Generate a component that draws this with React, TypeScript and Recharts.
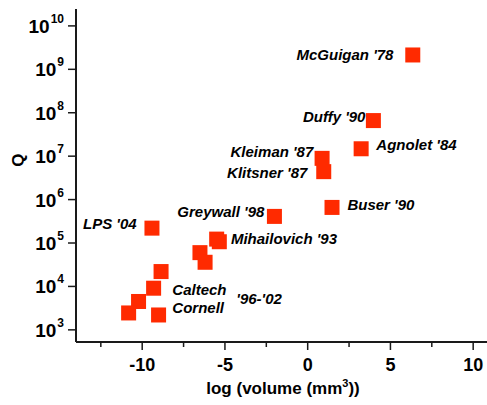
import { Scatter, ScatterChart, XAxis, YAxis } from "recharts";

// device points: log10 volume (mm^3) vs quality factor Q
const logVolume = [6.35, 3.97, 3.23, 0.87, 0.97, 1.47, -2.01, -9.41, -5.5, -5.34, -6.51, -6.2, -8.86, -9.31, -10.22, -10.82, -9.01];
const qFactor = [2.14e9, 6.6e7, 1.48e7, 8.9e6, 4.4e6, 6.6e5, 4.1e5, 2.2e5, 1.23e5, 1.07e5, 6.0e4, 3.6e4, 2.2e4, 9.1e3, 4.5e3, 2.45e3, 2.2e3];

// annotations, placed in data coordinates
const labelText = ["McGuigan '78", "Duffy '90", "Agnolet '84", "Kleiman '87", "Klitsner '87", "Buser '90", "Greywall '98", "LPS '04", "Mihailovich '93", "Caltech", "Cornell", "'96-'02"];
const labelX = [5.18, 3.49, 4.15, 0.34, -0.02, 2.4, -2.62, -10.34, -4.64, -8.18, -8.18, -4.31];
const labelQ = [2.14e9, 7.9e7, 1.8e7, 1.26e7, 4.2e6, 7.6e5, 5.1e5, 2.8e5, 1.23e5, 8.3e3, 3.2e3, 5.1e3];
const labelAlign = ["end", "end", "start", "end", "end", "start", "end", "end", "start", "start", "start", "start"];

const xTicks = [-12.5, -10, -7.5, -5, -2.5, 0, 2.5, 5, 7.5, 10];
const yTicks = [1e3, 1e4, 1e5, 1e6, 1e7, 1e8, 1e9, 1e10];

const FONT = '"Liberation Sans", Arial, sans-serif';
const INK = "#1a1a1a";

const points = logVolume.map((x, i) => ({ x, q: qFactor[i] }));
const labels = labelText.map((text, i) => ({ x: labelX[i], q: labelQ[i], text, align: labelAlign[i] }));

function Square(props: any) {
  const { cx, cy } = props;
  return <rect x={cx - 7.5} y={cy - 7.5} width={15} height={15} fill="#ff2a00" />;
}

function Note(props: any) {
  const { cx, cy, payload } = props;
  return (
    <text x={cx} y={cy + 5} textAnchor={payload.align} fontFamily={FONT} fontSize={15} fontWeight="bold" fontStyle="italic" fill="#000">
      {payload.text}
    </text>
  );
}

function XTick(props: any) {
  const { x, y, payload } = props;
  const major = Number.isInteger(payload.value);
  return (
    <g>
      <line x1={x} x2={x} y1={y} y2={y + (major ? 8 : 5)} stroke={INK} strokeWidth={1.5} />
      {major && (
        <text x={x} y={y + 29} textAnchor="middle" fontFamily={FONT} fontSize={18} fontWeight="bold" fill="#000">
          {payload.value}
        </text>
      )}
    </g>
  );
}

function YTick(props: any) {
  const { x, y, payload } = props;
  const exp = Math.round(Math.log10(payload.value));
  return (
    <g>
      <line x1={x - 8} x2={x} y1={y} y2={y} stroke={INK} strokeWidth={1.5} />
      <text x={x - 12} y={y + 7} textAnchor="end" fontFamily={FONT} fontSize={19} fontWeight="bold" fill="#000">
        10
        <tspan dx={1} dy={-10} fontSize={12}>
          {exp}
        </tspan>
      </text>
    </g>
  );
}

export default function App() {
  return (
    <div style={{ position: "absolute", left: 0, top: 0, width: 487, height: 405, overflow: "hidden", background: "#fff" }}>
      <ScatterChart width={500} height={405} margin={{ top: 9, right: 2, bottom: 0, left: 0 }}>
        <XAxis
          xAxisId="top"
          orientation="top"
          type="number"
          dataKey="x"
          domain={[-14, 11.5]}
          height={0}
          tick={false}
          tickLine={false}
          axisLine={{ stroke: INK, strokeWidth: 2 }}
        />
        <XAxis
          type="number"
          dataKey="x"
          domain={[-14, 11.5]}
          allowDataOverflow
          ticks={xTicks}
          interval={0}
          height={63}
          tickSize={0}
          tickMargin={0}
          tickLine={false}
          tick={<XTick />}
          axisLine={{ stroke: INK, strokeWidth: 2 }}
          label={{
            content: () => (
              <text x={283} y={394} textAnchor="middle" fontFamily={FONT} fontSize={17} fontWeight="bold" fill="#000">
                log (volume (mm<tspan dy={-7} fontSize={11}>3</tspan>
                <tspan dy={7}>))</tspan>
              </text>
            ),
          }}
        />
        <YAxis
          type="number"
          dataKey="q"
          scale="log"
          domain={[525, 2.45e10]}
          allowDataOverflow
          ticks={yTicks}
          interval={0}
          width={76}
          tickSize={0}
          tickMargin={0}
          tickLine={false}
          tick={<YTick />}
          axisLine={{ stroke: INK, strokeWidth: 2 }}
          label={{
            content: () => (
              <text x={24} y={160} textAnchor="middle" transform="rotate(-90 24 160)" fontFamily={FONT} fontSize={17} fontWeight="bold" fill="#000">
                Q
              </text>
            ),
          }}
        />
        <Scatter data={points} shape={<Square />} isAnimationActive={false} />
        <Scatter data={labels} shape={<Note />} isAnimationActive={false} />
      </ScatterChart>
    </div>
  );
}
